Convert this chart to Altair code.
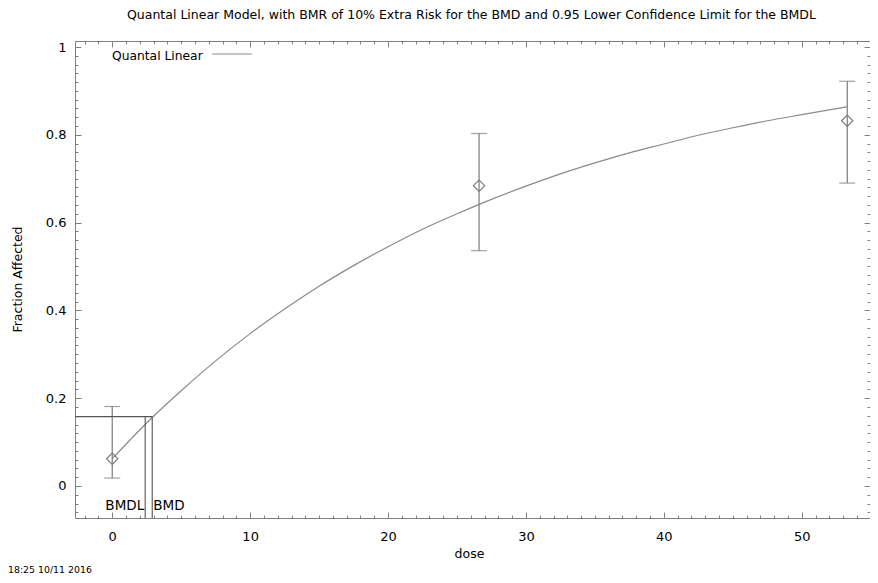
import altair as alt
import pandas as pd

# ---------------- data ----------------
doses = [0, 26.6, 53.3]
observed = [0.062, 0.684, 0.832]
lower = [0.018, 0.536, 0.690]
upper = [0.181, 0.803, 0.922]

curve_dose = [0, 2.9, 5, 7.5, 10, 12.5, 15, 17.5, 20, 22.5, 25, 27.5, 30,
              32.5, 35, 37.5, 40, 42.5, 45, 47.5, 50, 53.3]
curve_frac = [0.062, 0.156, 0.217, 0.285, 0.347, 0.403, 0.455, 0.502, 0.545,
              0.585, 0.620, 0.653, 0.683, 0.711, 0.736, 0.759, 0.779, 0.799,
              0.816, 0.832, 0.846, 0.864]

bmr_level = [0.158]
bmdl = [2.39]
bmd = [2.90]

x_major = [0, 10, 20, 30, 40, 50]
x_minor = [v for v in range(-2, 56) if v % 10 != 0]
y_major = [0, 0.2, 0.4, 0.6, 0.8, 1]
y_minor = [round(i / 50, 2) for i in range(-3, 51) if i % 10 != 0]

title_text = ("Quantal Linear Model, with BMR of 10% Extra Risk for the BMD "
              "and 0.95 Lower Confidence Limit for the BMDL")
stamp_text = "18:25 10/11 2016"

# ---------------- tables ----------------
obs_df = pd.DataFrame({"dose": doses, "frac": observed, "lo": lower, "hi": upper})
curve_df = pd.DataFrame({"dose": curve_dose, "frac": curve_frac})
bmd_df = pd.DataFrame({"bmdl": bmdl, "bmd": bmd, "level": bmr_level})

# ---------------- layout / style ----------------
W, H = 795, 477
X_DOM = [-2.7, 54.95]
Y_DOM = [-0.073, 1.0137]
FONT = "DejaVu Sans"
LINE = "#7a7a7a"
CURVE = "#8a8a8a"
FRAME = "#808080"


def xs():
    return alt.Scale(domain=X_DOM, nice=False, zero=False)


def ys():
    return alt.Scale(domain=Y_DOM, nice=False, zero=False)


def tick_axis(orient, offset, values, size, domain=False):
    return alt.Axis(orient=orient, offset=offset, values=values, tickSize=size,
                    labels=False, domain=domain, domainColor=FRAME, grid=False,
                    title=None, tickColor=FRAME, tickWidth=1)


ax_x_labels = alt.Axis(values=x_major, format="d", tickSize=0, domain=True,
                       domainColor=FRAME, grid=False, labelPadding=12,
                       labelFont=FONT, labelFontSize=13, labelColor="black",
                       title="dose", titleFont=FONT, titleFontSize=12.5,
                       titleFontWeight="normal", titleColor="black",
                       titlePadding=4, titleX=394)
ax_y_labels = alt.Axis(values=y_major, format="~r", tickSize=0, domain=True,
                       domainColor=FRAME, grid=False, labelPadding=9,
                       labelFont=FONT, labelFontSize=13, labelColor="black",
                       title="Fraction Affected", titleFont=FONT,
                       titleFontSize=12.5, titleFontWeight="normal",
                       titleColor="black", titleX=-51, titleY=238)

# curve (carries the labelled axes)
curve = alt.Chart(curve_df).mark_line(color=CURVE, strokeWidth=1.2,
                                      interpolate="monotone").encode(
    x=alt.X("dose:Q", scale=xs(), axis=ax_x_labels),
    y=alt.Y("frac:Q", scale=ys(), axis=ax_y_labels),
)

# error bars (bottom/left inward major ticks)
bars = alt.Chart(obs_df).mark_rule(color=LINE, strokeWidth=1.2).encode(
    x=alt.X("dose:Q", scale=xs(), axis=tick_axis("top", -H, x_major, 6)),
    y=alt.Y("lo:Q", scale=ys(), axis=tick_axis("right", -W, y_major, 6)),
    y2="hi:Q",
)

# upper caps (minor inward ticks bottom/left)
cap_hi = alt.Chart(obs_df).mark_tick(orient="horizontal", size=16, thickness=1.2,
                                     color=LINE).encode(
    x=alt.X("dose:Q", scale=xs(), axis=tick_axis("top", -H, x_minor, 3)),
    y=alt.Y("hi:Q", scale=ys(), axis=tick_axis("right", -W, y_minor, 3)),
)

# lower caps (top/right inward major ticks, top frame line)
cap_lo = alt.Chart(obs_df).mark_tick(orient="horizontal", size=16, thickness=1.2,
                                     color=LINE).encode(
    x=alt.X("dose:Q", scale=xs(), axis=tick_axis("bottom", -H, x_major, 6, True)),
    y=alt.Y("lo:Q", scale=ys(), axis=tick_axis("left", -W, y_major, 6)),
)

# diamonds (top/right inward minor ticks)
pts = alt.Chart(obs_df).mark_point(shape="diamond", size=130, filled=False,
                                   color=LINE, strokeWidth=1.1, opacity=1).encode(
    x=alt.X("dose:Q", scale=xs(), axis=tick_axis("bottom", -H, x_minor, 3)),
    y=alt.Y("frac:Q", scale=ys(), axis=tick_axis("left", -W, y_minor, 3)),
)

# BMR horizontal line and BMDL / BMD verticals
bmr_line = alt.Chart(bmd_df).mark_rule(color="#555555", strokeWidth=1.1).encode(
    x=alt.X("bmd:Q", scale=xs(), axis=None),
    x2=alt.value(0),
    y=alt.Y("level:Q", scale=ys(), axis=None),
)
bmdl_line = alt.Chart(bmd_df).mark_rule(color="#555555", strokeWidth=1.1).encode(
    x=alt.X("bmdl:Q", scale=xs(), axis=None),
    y=alt.Y("level:Q", scale=ys(), axis=None),
    y2=alt.value(H),
)
bmd_line = alt.Chart(bmd_df).mark_rule(color="#555555", strokeWidth=1.1).encode(
    x=alt.X("bmd:Q", scale=xs(), axis=None),
    y=alt.Y("level:Q", scale=ys(), axis=None),
    y2=alt.value(H),
)
bmdl_txt = alt.Chart(bmd_df).mark_text(text="BMDL", align="right", baseline="middle",
                                       dx=-1, font=FONT, fontSize=13.5,
                                       color="black").encode(
    x=alt.X("bmdl:Q", scale=xs(), axis=None),
    y=alt.value(465),
)
bmd_txt = alt.Chart(bmd_df).mark_text(text="BMD", align="left", baseline="middle",
                                      dx=1, font=FONT, fontSize=13.5,
                                      color="black").encode(
    x=alt.X("bmd:Q", scale=xs(), axis=None),
    y=alt.value(465),
)

# legend
leg_txt = alt.Chart(pd.DataFrame({"t": ["Quantal Linear"]})).mark_text(
    align="left", baseline="middle", font=FONT, fontSize=12.3, color="black").encode(
    text="t:N", x=alt.value(37), y=alt.value(14.5))
leg_line = alt.Chart(pd.DataFrame({"t": ["Quantal Linear"]})).mark_rule(
    color=CURVE, strokeWidth=1.2).encode(
    x=alt.value(137), x2=alt.value(177), y=alt.value(13))

# timestamp
stamp = alt.Chart(pd.DataFrame({"t": [stamp_text]})).mark_text(
    align="left", baseline="middle", font=FONT, fontSize=9.4, color="black").encode(
    text="t:N", x=alt.value(-67), y=alt.value(529))

chart = alt.layer(
    curve, bars, cap_hi, cap_lo, pts, bmr_line, bmdl_line, bmd_line,
    bmdl_txt, bmd_txt, leg_txt, leg_line, stamp,
).resolve_scale(x="independent", y="independent").resolve_axis(
    x="independent", y="independent"
).properties(
    width=W, height=H,
    title=alt.Title(title_text, font=FONT, fontSize=12.5, fontWeight="normal",
                    color="black", offset=19, dx=-1, anchor="middle"),
    padding={"left": 67, "top": 33, "right": 0, "bottom": 57},
    autosize=alt.AutoSizeParams(type="none"),
).configure_view(stroke=None).configure(background="white")

chart.save("out.html", embed_options={"renderer": "svg", "actions": False})
